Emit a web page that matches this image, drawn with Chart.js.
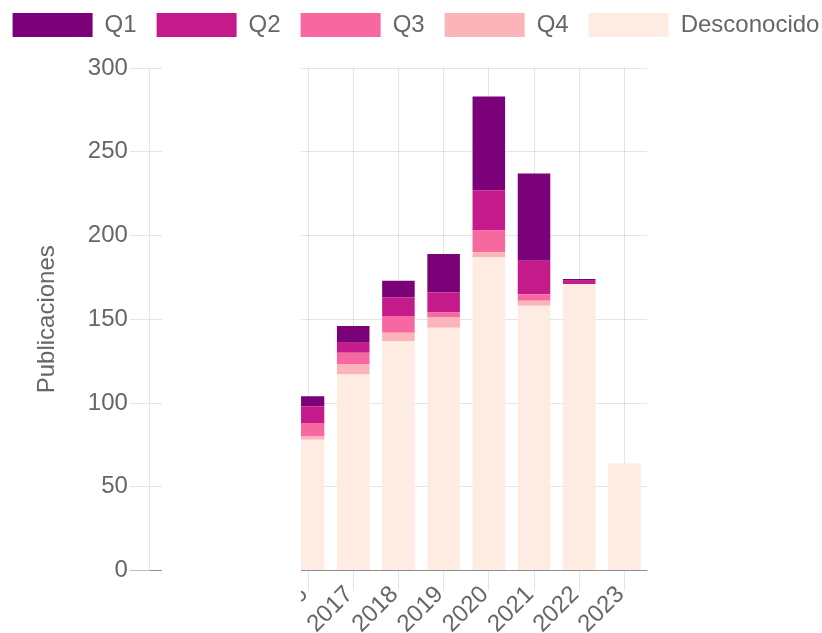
<!DOCTYPE html>
<html>
<head>
<meta charset="utf-8">
<script src="https://cdn.jsdelivr.net/npm/chart.js@4"></script>
<style>
  html, body { margin: 0; padding: 0; background: #fff; overflow: hidden; }
  /* canvas is a little wider than the window, like the original screenshot */
  .chart-wrap { position: absolute; left: -9px; top: -7px; width: 850px; height: 640px; }
</style>
</head>
<body>
<div class="chart-wrap"><canvas id="pubChart"></canvas></div>
<script>
// first three years are hidden behind the scroll cover
const years = ['', '', '', '2016', '2017', '2018', '2019', '2020', '2021', '2022', '2023'];
const q1 = [null, null, null, 6, 10, 10, 23, 56, 52, 1, 0];
const q2 = [null, null, null, 10, 6, 11, 12, 24, 20, 2, 0];
const q3 = [null, null, null, 8, 7, 10, 3, 13, 4, 0, 0];
const q4 = [null, null, null, 2, 6, 5, 6, 3, 3, 0, 0];
const desconocido = [null, null, null, 78, 117, 137, 145, 187, 158, 171, 64];
const yTicks = { min: 0, max: 300, step: 50 };

Chart.defaults.font.family = "'Liberation Sans', Arial, sans-serif";
Chart.defaults.font.size = 24;
Chart.defaults.color = '#666';

// Extra room under the legend
const legendSpacing = {
    id: 'legendSpacing',
    beforeInit(chart) {
        const fit = chart.legend.fit;
        chart.legend.fit = function () {
            fit.bind(chart.legend)();
            this.height += 21;
        };
    }
};

// White block left by the scrolled y-axis overlay
const scrollCover = {
    id: 'scrollCover',
    afterDraw(chart) {
        const { ctx, chartArea } = chart;
        const left = chartArea.left + 12;
        const right = chart.scales.x.getPixelForValue(3) - 7;
        ctx.save();
        ctx.fillStyle = '#fff';
        ctx.fillRect(left, chartArea.top - 15, right - left, chart.height);
        ctx.restore();
    }
};

const ctx = document.getElementById('pubChart').getContext('2d');
new Chart(ctx, {
    type: 'bar',
    data: {
        labels: years,
        datasets: [
            { label: 'Desconocido', data: desconocido, backgroundColor: '#feebe2' },
            { label: 'Q4', data: q4, backgroundColor: '#fbb4b9' },
            { label: 'Q3', data: q3, backgroundColor: '#f768a1' },
            { label: 'Q2', data: q2, backgroundColor: '#c51b8a' },
            { label: 'Q1', data: q1, backgroundColor: '#7a0177' }
        ]
    },
    options: {
        responsive: true,
        maintainAspectRatio: false,
        animation: false,
        plugins: {
            legend: {
                reverse: true,
                labels: { boxWidth: 80, boxHeight: 24, padding: 20 }
            },
            tooltip: { enabled: false }
        },
        scales: {
            x: {
                stacked: true,
                grid: { offset: false, tickLength: 20 },
                border: { color: 'rgba(0,0,0,0.25)' },
                ticks: { autoSkip: false, minRotation: 45, maxRotation: 45, padding: -10, labelOffset: -4 },
                afterFit(scale) { scale.height = 62.5; }
            },
            y: {
                stacked: true,
                min: yTicks.min,
                max: yTicks.max,
                ticks: { stepSize: yTicks.step, padding: 2 },
                grid: {
                    tickLength: 20,
                    color: c => (c.tick && c.tick.value === 0) ? 'rgba(0,0,0,0.25)' : 'rgba(0,0,0,0.1)'
                },
                title: { display: true, text: 'Publicaciones', padding: { top: 42, bottom: 24 } }
            },
            spacer: {
                type: 'linear',
                position: 'right',
                grid: { display: false },
                border: { display: false },
                ticks: { display: false },
                afterFit(scale) { scale.width = 194; }
            }
        }
    },
    plugins: [legendSpacing, scrollCover]
});
</script>
</body>
</html>
